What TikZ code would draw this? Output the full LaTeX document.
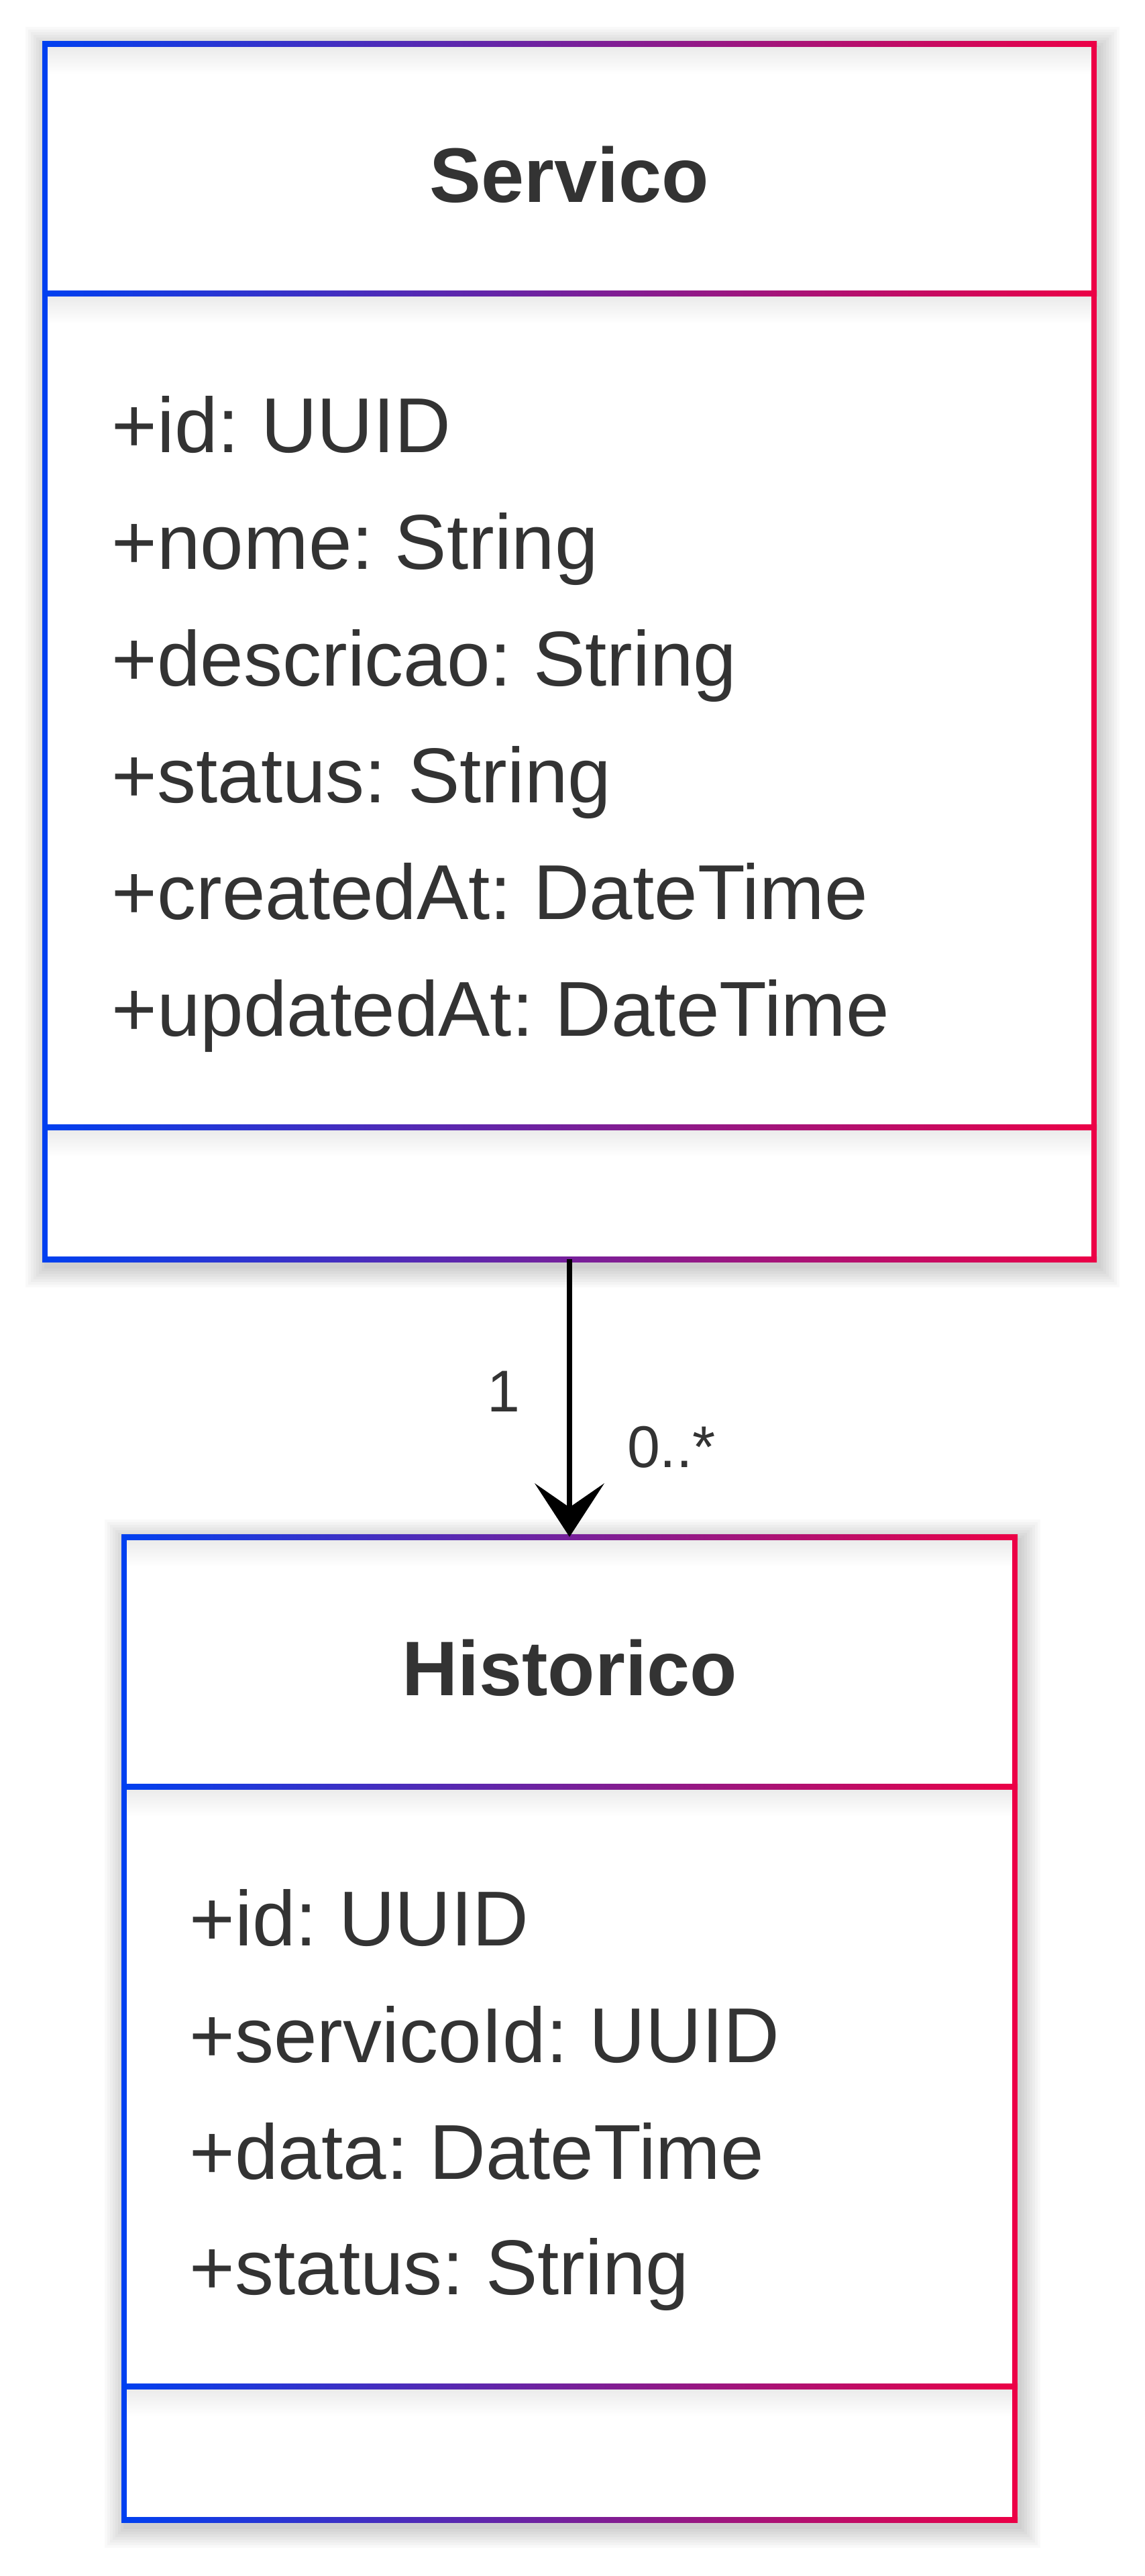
\documentclass[tikz,border=0pt]{standalone}
\usepackage{fontspec}
\setmainfont{Liberation Sans}
\usetikzlibrary{arrows.meta}
\definecolor{umlblue}{RGB}{0,64,240}
\definecolor{umlred}{RGB}{236,0,70}
\definecolor{umltext}{RGB}{51,51,51}
\frenchspacing
\tikzset{>={Stealth[length=8mm,width=10.4mm,inset=3.6mm,line width=0pt]}}
\tikzset{
  classbox/.style={rectangle, inner sep=0pt, outer sep=0pt},
  title/.style={font=\fontsize{32.8}{38}\selectfont\bfseries, text=umltext, anchor=base, inner sep=0pt},
  attr/.style={font=\fontsize{33}{38}\selectfont, text=umltext, anchor=base west, inner sep=0pt},
  mult/.style={font=\fontsize{25}{30}\selectfont, text=umltext, anchor=base, inner sep=0pt},
  assoc/.style={->, line width=0.8mm, black},
}

\begin{document}
\begin{tikzpicture}
    \fill[white] (0,0) rectangle (17.06,-38.40);
    \useasboundingbox (0,0) rectangle (17.06,-38.40);

    \node[classbox, minimum width=15.64cm, minimum height=18.11cm] (servico) at (8.49,-9.715) {};
    \node[classbox, minimum width=13.28cm, minimum height=14.65cm] (historico) at (8.49,-30.235) {};

    % shadows
    \foreach \s in {0.04,0.08,...,0.36}
        \fill[black, opacity=0.025] (0.70-\s,-0.72+\s) rectangle (16.37+\s,-18.87-\s);
    \foreach \s in {0.04,0.08,...,0.36}
        \fill[black, opacity=0.025] (1.88-\s,-22.97+\s) rectangle (15.19+\s,-37.66-\s);

    % Servico
    \fill[white] (0.67,-0.66) rectangle (16.31,-18.77);
    \shade[top color=black!8, bottom color=white] (0.71,-0.70) rectangle (16.27,-1.10);
    \shade[top color=black!8, bottom color=white] (0.71,-4.42) rectangle (16.27,-4.82);
    \shade[top color=black!8, bottom color=white] (0.71,-16.84) rectangle (16.27,-17.24);
    \shade[left color=umlblue, right color=umlred] (0.63,-0.62) rectangle (16.35,-0.70);
    \shade[left color=umlblue, right color=umlred] (0.63,-4.34) rectangle (16.35,-4.42);
    \shade[left color=umlblue, right color=umlred] (0.63,-16.76) rectangle (16.35,-16.84);
    \shade[left color=umlblue, right color=umlred] (0.63,-18.73) rectangle (16.35,-18.81);
    \fill[umlblue] (0.63,-0.62) rectangle (0.71,-18.81);
    \fill[umlred] (16.27,-0.62) rectangle (16.35,-18.81);

    \node[title] (servicoName) at (8.49,-3.02) {Servico};
    \node[attr] (sId) at (1.66,-6.74) {+id: UUID};
    \node[attr] (sNome) at (1.66,-8.48) {+nome: String};
    \node[attr] (sDescricao) at (1.66,-10.22) {+descricao: String};
    \node[attr] (sStatus) at (1.66,-11.96) {+status: String};
    \node[attr] (sCreated) at (1.66,-13.70) {+createdAt: DateTime};
    \node[attr] (sUpdated) at (1.66,-15.44) {+updatedAt: DateTime};

    % Historico
    \fill[white] (1.85,-22.91) rectangle (15.13,-37.56);
    \shade[top color=black!8, bottom color=white] (1.89,-22.95) rectangle (15.09,-23.35);
    \shade[top color=black!8, bottom color=white] (1.89,-26.67) rectangle (15.09,-27.07);
    \shade[top color=black!8, bottom color=white] (1.89,-35.61) rectangle (15.09,-36.01);
    \shade[left color=umlblue, right color=umlred] (1.81,-22.87) rectangle (15.17,-22.95);
    \shade[left color=umlblue, right color=umlred] (1.81,-26.59) rectangle (15.17,-26.67);
    \shade[left color=umlblue, right color=umlred] (1.81,-35.53) rectangle (15.17,-35.61);
    \shade[left color=umlblue, right color=umlred] (1.81,-37.52) rectangle (15.17,-37.60);
    \fill[umlblue] (1.81,-22.87) rectangle (1.89,-37.60);
    \fill[umlred] (15.09,-22.87) rectangle (15.17,-37.60);

    \node[title] (historicoName) at (8.49,-25.27) {Historico};
    \node[attr] (hId) at (2.82,-29.00) {+id: UUID};
    \node[attr] (hServicoId) at (2.82,-30.74) {+servicoId: UUID};
    \node[attr] (hData) at (2.82,-32.48) {+data: DateTime};
    \node[attr] (hStatus) at (2.82,-34.20) {+status: String};

    % association
    \draw[assoc] (servico.south) -- (historico.north);
    \node[mult] (multOne) at (7.51,-21.04) {1};
    \node[mult] (multMany) at (10.01,-21.87) {0..*};
\end{tikzpicture}
\end{document}
